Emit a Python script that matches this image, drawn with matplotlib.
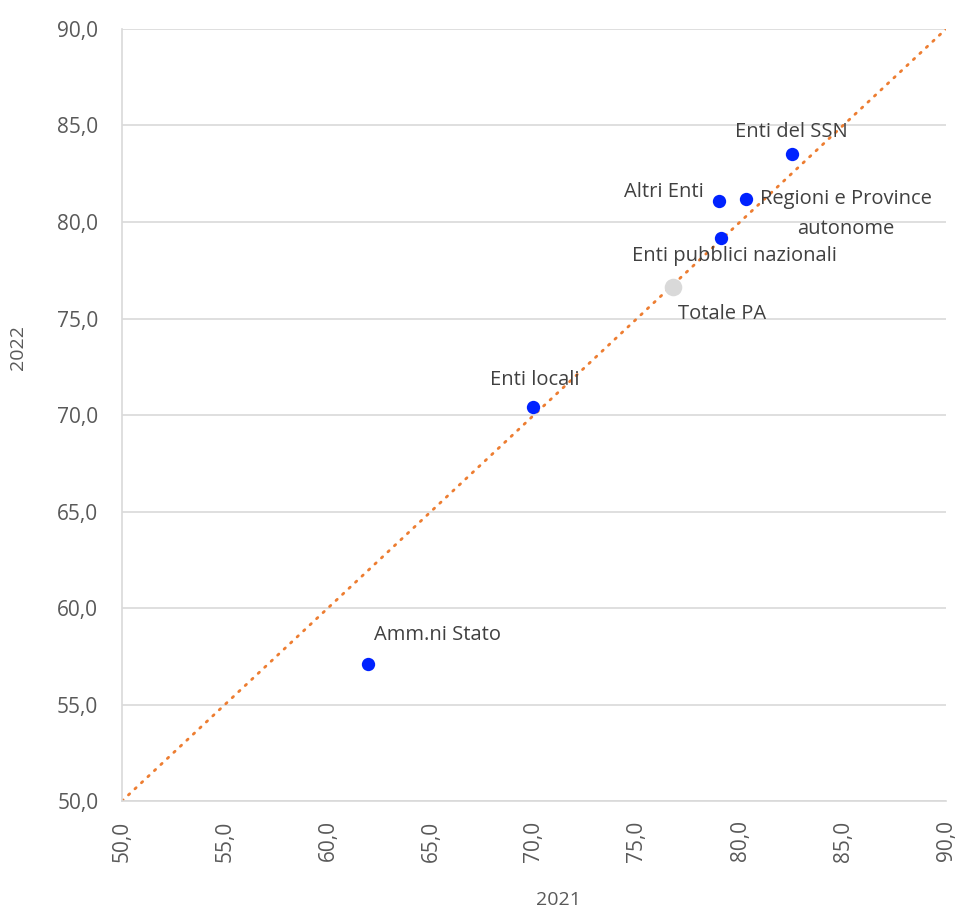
import matplotlib
matplotlib.use("Agg")
import matplotlib.pyplot as plt
from matplotlib.ticker import FuncFormatter, MultipleLocator

plt.rcParams["font.family"] = ["Open Sans", "DejaVu Sans"]

# Indicator values by sector, 2021 (x) vs 2022 (y)
labels = ["Enti del SSN", "Altri Enti", "Regioni e Province\nautonome",
          "Enti pubblici nazionali", "Enti locali", "Amm.ni Stato"]
val_2021 = [82.5, 79.0, 80.3, 79.1, 69.95, 61.95]
val_2022 = [83.5, 81.1, 81.2, 79.15, 70.4, 57.1]

total_label = "Totale PA"
total_2021 = 76.75
total_2022 = 76.65

# Label offsets in points and alignment for each point
offsets = [(0, 16.5), (-11, 6), (72, -11), (9, -13), (1, 20), (50, 21)]
aligns = ["center", "right", "center", "center", "center", "center"]
total_offset = (35, -20)

axis_min, axis_max, axis_step = 50, 90, 5

label_color = "#404040"
tick_color = "#595959"
grid_color = "#D9D9D9"

fig = plt.figure(figsize=(9.55, 9.09), dpi=100)
ax = fig.add_axes([0.1277, 0.1188, 0.8629, 0.8493])

# Parity line y = x
ax.plot([axis_min, axis_max], [axis_min, axis_max], color="#ED7D31",
        linestyle=(0, (0.6, 2.6)), linewidth=2.0, dash_capstyle="round", zorder=2)

ax.scatter(val_2021, val_2022, s=92, color="#0022FF", zorder=3, linewidths=0)
ax.scatter([total_2021], [total_2022], s=160, color="#D9D9D9", zorder=3, linewidths=0)

txt_font = dict(size=14.5, color=label_color)
for lab, x, y, off, ha in zip(labels, val_2021, val_2022, offsets, aligns):
    ax.annotate(lab, (x, y), xytext=off, textcoords="offset points",
                ha=ha, va="center", multialignment="center",
                linespacing=1.65, **txt_font)
ax.annotate(total_label, (total_2021, total_2022), xytext=total_offset,
            textcoords="offset points", ha="center", va="center", **txt_font)

ax.set_xlim(axis_min, axis_max)
ax.set_ylim(axis_min, axis_max)
ax.xaxis.set_major_locator(MultipleLocator(axis_step))
ax.yaxis.set_major_locator(MultipleLocator(axis_step))
fmt = FuncFormatter(lambda v, p: f"{v:.1f}".replace(".", ","))
ax.xaxis.set_major_formatter(fmt)
ax.yaxis.set_major_formatter(fmt)

ax.grid(axis="y", color=grid_color, linewidth=1.2)
ax.set_axisbelow(True)
for side in ("top", "right"):
    ax.spines[side].set_visible(False)
for side in ("left", "bottom"):
    ax.spines[side].set_color(grid_color)
    ax.spines[side].set_linewidth(1.2)

ax.tick_params(length=0, labelcolor=tick_color, labelsize=15)
ax.tick_params(axis="x", rotation=90, pad=14)
ax.tick_params(axis="y", pad=17)

fig.text(0.0188, 0.618, "2022", rotation=90, ha="center", va="center",
         color=tick_color, fontsize=14)
fig.text(0.585, 0.01, "2021", ha="center", va="center",
         color=tick_color, fontsize=14)

fig.savefig("out.png", dpi=100, facecolor="white")
